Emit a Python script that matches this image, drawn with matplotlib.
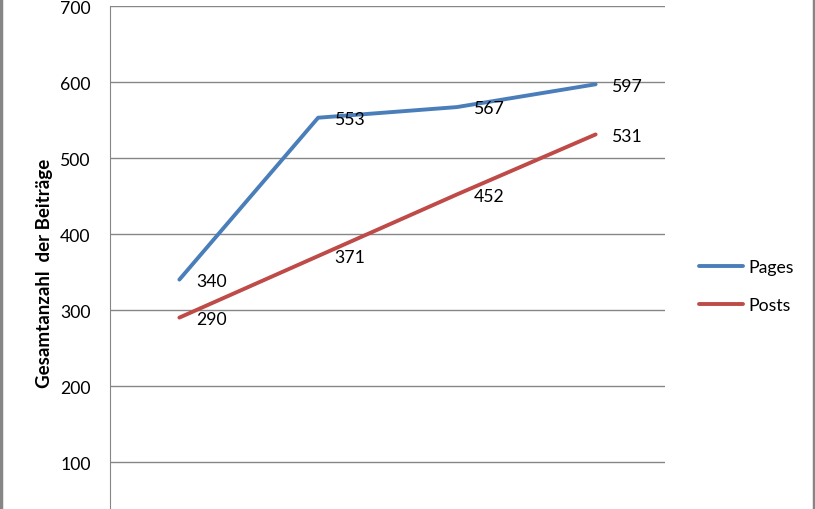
import matplotlib
matplotlib.use('Agg')
import matplotlib.pyplot as plt
from matplotlib.patches import Rectangle

plt.rcParams['font.family'] = ['Lato', 'DejaVu Sans']

categories = ['1', '2', '3', '4']
pages = [340, 553, 567, 597]
posts = [290, 371, 452, 531]

fig = plt.figure(figsize=(8.15, 5.1), dpi=100)
# plot area runs past the bottom edge of the picture (the chart is cropped)
ax = fig.add_axes([110/815, (510-539)/510, 555/815, 532/510])

x = range(len(categories))
ax.plot(x, pages, color='#4A7EBB', lw=2.8, label='Pages', solid_capstyle='round')
ax.plot(x, posts, color='#BE4B48', lw=2.8, label='Posts', solid_capstyle='round')

for xi, v in zip(x, pages):
    ax.annotate(str(v), (xi, v), xytext=(12, -1), textcoords='offset points',
                va='center', ha='left', fontsize=12.7, color='black')
for xi, v in zip(x, posts):
    ax.annotate(str(v), (xi, v), xytext=(12, -1), textcoords='offset points',
                va='center', ha='left', fontsize=12.7, color='black')

ax.set_xlim(-0.5, 3.5)
ax.set_ylim(0, 700)
ax.set_yticks(range(100, 701, 100))
ax.set_xticks([])
ax.yaxis.grid(True, color='#868686', lw=1)
ax.set_axisbelow(True)
for s in ['top', 'right', 'bottom']:
    ax.spines[s].set_visible(False)
ax.spines['left'].set_color('#868686')
ax.tick_params(axis='y', length=0, pad=14, labelsize=12.7)
ax.set_ylabel('Gesamtanzahl  der Beiträge', fontsize=13.5, fontweight='bold', labelpad=5)

fig.legend(loc='center left', bbox_to_anchor=(683/815, 1 - 287/510), frameon=False,
           fontsize=12.7, handlelength=2.5, handletextpad=0.3, labelspacing=1.25)

# outer chart border (left and right edges visible)
fig.add_artist(Rectangle((0.5/815, -0.1), 813.5/815, 1.2, transform=fig.transFigure,
                         fill=False, edgecolor='#868686', lw=2.5))

fig.savefig('out.png', dpi=100)
